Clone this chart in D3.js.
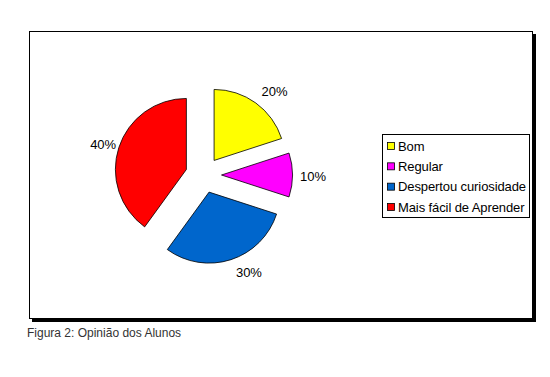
<!DOCTYPE html>
<html>
<head>
<meta charset="utf-8">
<script src="https://cdn.jsdelivr.net/npm/d3@7"></script>
<style>
  body { margin: 0; background: #fff; }
  svg { display: block; font-family: "Liberation Sans", Arial, sans-serif; }
</style>
</head>
<body>
<svg id="chart" width="550" height="377"></svg>
<script>
// --- DATA ---
const categories = ["Bom", "Regular", "Despertou curiosidade", "Mais fácil de Aprender"];
const values = [20, 10, 30, 40];
const colors = ["#FFFF00", "#FF00FF", "#0066CC", "#FF0000"];
const caption = "Figura 2: Opinião dos Alunos";

// --- LAYOUT ---
const svg = d3.select("#chart");
const cx = 203.5, cy = 175, radius = 71, explode = 18;
// label placement (radial distance, sideways nudge) per slice, as Excel laid them out
const labelR = [109, 109.5, 107, 105];
const labelNudge = [8.6, 1, -13, -1.6];

// frame with drop shadow
svg.append("rect").attr("x", 32).attr("y", 34).attr("width", 504).attr("height", 288).attr("fill", "#000");
svg.append("rect").attr("x", 29.5).attr("y", 31.5).attr("width", 503).attr("height", 287)
    .attr("fill", "#fff").attr("stroke", "#000").attr("stroke-width", 1);

// --- PIE ---
const pie = d3.pie().sort(null).value(d => d)(values);
const arc = d3.arc().innerRadius(0).outerRadius(radius);
const g = svg.append("g").attr("transform", `translate(${cx},${cy})`);
const mid = d => (d.startAngle + d.endAngle) / 2;

g.selectAll("path.slice")
    .data(pie).join("path")
    .attr("class", "slice")
    .attr("d", arc)
    .attr("transform", d => `translate(${Math.sin(mid(d)) * explode},${-Math.cos(mid(d)) * explode})`)
    .attr("fill", (d, i) => colors[i])
    .attr("stroke", "#000").attr("stroke-width", 0.8);

g.selectAll("text.pct")
    .data(pie).join("text")
    .attr("class", "pct")
    .attr("x", (d, i) => Math.sin(mid(d)) * labelR[i] + Math.cos(mid(d)) * labelNudge[i])
    .attr("y", (d, i) => -Math.cos(mid(d)) * labelR[i] + Math.sin(mid(d)) * labelNudge[i])
    .attr("dy", "0.35em")
    .attr("text-anchor", "middle")
    .attr("font-size", 13)
    .text(d => d.value + "%");

// --- LEGEND ---
const legend = svg.append("g").attr("transform", "translate(382,134)");
legend.append("rect").attr("x", 0.5).attr("y", 0.5).attr("width", 147).attr("height", 83)
    .attr("fill", "#fff").attr("stroke", "#000");
const ly = d3.scalePoint().domain(categories).range([12, 73]);
const item = legend.selectAll("g.item").data(categories).join("g")
    .attr("class", "item")
    .attr("transform", d => `translate(0,${ly(d)})`);
item.append("rect").attr("x", 5.5).attr("y", -3.5).attr("width", 7).attr("height", 7)
    .attr("fill", (d, i) => colors[i]).attr("stroke", "#000").attr("stroke-width", 0.8);
item.append("text").attr("x", 16).attr("dy", "0.35em")
    .attr("font-size", 13).attr("letter-spacing", -0.1)
    .text(d => d);

// --- CAPTION ---
svg.append("text").attr("x", 27).attr("y", 337)
    .attr("font-size", 12).attr("fill", "#333")
    .text(caption);
</script>
</body>
</html>
